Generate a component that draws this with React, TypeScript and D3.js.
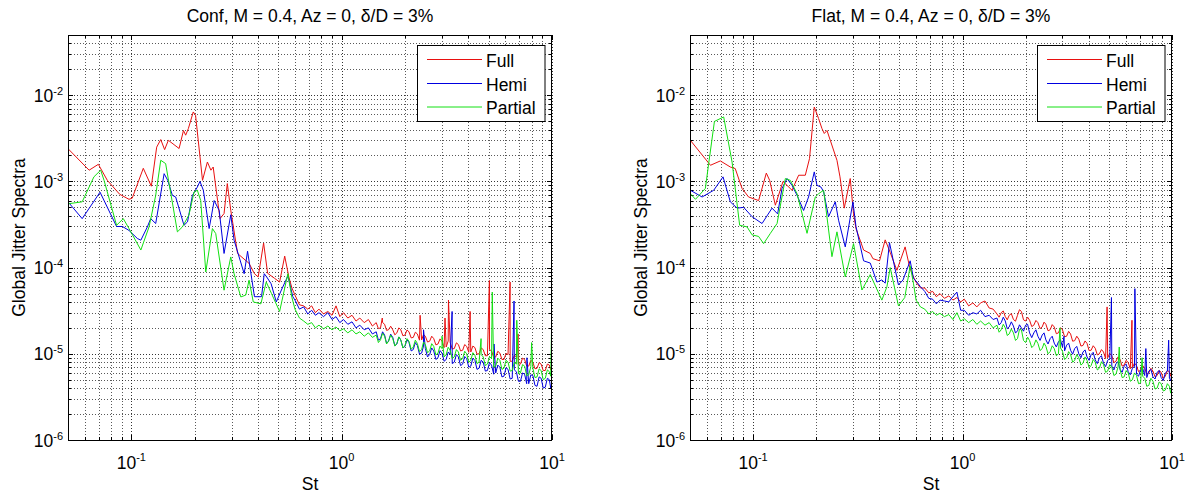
import React from "react";
import * as d3 from "d3";

// ---------- data ----------
const seriesNames = ["Full", "Hemi", "Partial"];
const seriesColors = ["#e81010", "#0000e0", "#12e012"];
const panelTitles = ["Conf, M = 0.4, Az = 0, \u03b4/D = 3%", "Flat, M = 0.4, Az = 0, \u03b4/D = 3%"];
const xTickExps = [-1, 0, 1];
const yTickExps = [-6, -5, -4, -3, -2];
const xDomain = [0.05, 10];
const yDomain = [1e-6, 5e-2];

// shared Strouhal grid for the broadband (high-frequency) part
const hiSt = [
  0.60, 0.63, 0.66, 0.69, 0.72, 0.75, 0.78, 0.82, 0.86, 0.90,
  0.94, 0.98, 1.02, 1.07, 1.12, 1.17, 1.22, 1.28, 1.34, 1.40,
  1.46, 1.53, 1.60, 1.67, 1.75, 1.83, 1.91, 2.00, 2.09, 2.19,
  2.29, 2.40, 2.50, 2.62, 2.74, 2.87, 3.00, 3.14, 3.28, 3.43,
  3.59, 3.76, 3.93, 4.11, 4.30, 4.50, 4.71, 4.93, 5.16, 5.40,
  5.65, 5.91, 6.18, 6.47, 6.77, 7.08, 7.41, 7.75, 8.11, 8.49,
  8.88, 9.29, 9.72, 10.0,
];
// in-between samples of the noisy band (St > 1.46)
const midSt = [
  1.495, 1.565, 1.635, 1.71, 1.79, 1.87, 1.955, 2.045, 2.14, 2.24,
  2.345, 2.45, 2.56, 2.68, 2.805, 2.935, 3.07, 3.21, 3.355, 3.51,
  3.675, 3.845, 4.02, 4.205, 4.40, 4.605, 4.82, 5.045, 5.28, 5.525,
  5.78, 6.045, 6.325, 6.62, 6.925, 7.245, 7.58, 7.93, 8.30, 8.685,
  9.085, 9.505, 9.86,
];

// ---- Conf panel ----
const confFullLow = [
  [0.05, 2.4e-3], [0.063, 1.35e-3], [0.0697, 1.58e-3], [0.0769, 1.03e-3], [0.088, 7.1e-4],
  [0.0975, 6.2e-4], [0.101, 6.4e-4], [0.114, 1.42e-3], [0.1245, 8.8e-4], [0.132, 2.5e-3],
  [0.138, 3.06e-3], [0.144, 2.34e-3], [0.15, 3.0e-3], [0.1687, 2.41e-3], [0.177, 3.9e-3],
  [0.1813, 3.44e-3], [0.1867, 4.1e-3], [0.197, 6.4e-3], [0.202, 5.86e-3], [0.218, 1.03e-3],
  [0.23, 1.68e-3], [0.239, 1.35e-3], [0.245, 1.47e-3], [0.264, 3.7e-4], [0.276, 4.24e-4],
  [0.286, 9.45e-4], [0.297, 4.63e-4], [0.32, 1.46e-4], [0.363, 1.12e-4], [0.385, 8.5e-5],
  [0.401, 7.8e-5], [0.4255, 1.93e-4], [0.4446, 8.6e-5], [0.48, 7.5e-5], [0.507, 6.8e-5],
  [0.536, 1.36e-4], [0.561, 7.8e-5], [0.58, 5.8e-5],
];
const confFullHi = [
  4.8e-5, 3.7e-5, 3.6e-5, 3.3e-5, 3.6e-5, 3.0e-5, 3.3e-5, 2.9e-5, 3.1e-5, 2.8e-5,
  3.6e-5, 2.7e-5, 3.0e-5, 2.6e-5, 2.8e-5, 2.4e-5, 2.6e-5, 2.3e-5, 2.5e-5, 2.1e-5,
  2.3e-5, 2.0e-5, 2.2e-5, 1.9e-5, 1.9e-5, 1.75e-5, 1.9e-5, 1.65e-5, 1.8e-5, 1.55e-5,
  1.7e-5, 1.45e-5, 1.6e-5, 1.4e-5, 1.5e-5, 1.3e-5, 1.4e-5, 1.2e-5, 1.35e-5, 1.15e-5,
  1.28e-5, 1.1e-5, 1.22e-5, 1.05e-5, 1.18e-5, 1.0e-5, 1.12e-5, 0.95e-5, 1.08e-5, 0.92e-5,
  1.02e-5, 0.86e-5, 0.98e-5, 0.82e-5, 0.92e-5, 0.76e-5, 0.86e-5, 0.72e-5, 0.8e-5, 0.68e-5,
  0.76e-5, 0.64e-5, 0.74e-5, 0.68e-5,
];
const confFullMid = [
  1.96e-5, 2.31e-5, 1.87e-5, 2.09e-5, 1.66e-5, 2.0e-5, 1.62e-5, 1.89e-5, 1.53e-5, 1.78e-5,
  1.44e-5, 1.67e-5, 1.37e-5, 1.6e-5, 1.27e-5, 1.49e-5, 1.18e-5, 1.41e-5, 1.14e-5, 1.34e-5,
  1.08e-5, 1.28e-5, 1.04e-5, 1.23e-5, 0.99e-5, 1.17e-5, 0.95e-5, 1.12e-5, 0.91e-5, 1.07e-5,
  0.86e-5, 1.01e-5, 0.82e-5, 0.96e-5, 0.76e-5, 0.89e-5, 0.72e-5, 0.84e-5, 0.67e-5, 0.79e-5,
  0.64e-5, 0.76e-5, 0.65e-5,
];
const confFullSpikes = [
  [1.56, 2.6e-5], [2.36, 2.8e-5], [3.1, 2.6e-5], [3.22, 4.2e-5], [4.08, 3.1e-5],
  [5.04, 7.1e-5], [6.32, 6.8e-5], [6.9, 1.7e-5],
];

const confHemiLow = [
  [0.05, 5.8e-4], [0.0584, 3.7e-4], [0.071, 7.5e-4], [0.0851, 3.0e-4], [0.0907, 3.0e-4],
  [0.0975, 2.7e-4], [0.1068, 2.18e-4], [0.111, 2.08e-4], [0.1192, 2.97e-4], [0.1236, 3.7e-4],
  [0.1306, 3.25e-4], [0.1432, 1.23e-3], [0.149, 1.03e-3], [0.1567, 6.9e-4], [0.1625, 6.6e-4],
  [0.178, 3.1e-4], [0.185, 3.4e-4], [0.1953, 6.9e-4], [0.206, 8.6e-4], [0.212, 1.0e-3],
  [0.22, 7.9e-4], [0.2344, 2.84e-4], [0.2477, 6.0e-4], [0.2617, 4.6e-4], [0.276, 1.46e-4],
  [0.297, 4.1e-4], [0.308, 2.08e-4], [0.344, 8.5e-5], [0.357, 1.55e-4], [0.385, 4.6e-5],
  [0.416, 4.6e-5], [0.4285, 8.5e-5], [0.44, 7.8e-5], [0.462, 6.5e-5], [0.489, 4.0e-5],
  [0.517, 5.5e-5], [0.555, 8.0e-5], [0.586, 4.6e-5],
];
const confHemiHi = [
  4.2e-5, 3.3e-5, 3.5e-5, 2.9e-5, 3.2e-5, 2.8e-5, 3.0e-5, 2.7e-5, 3.0e-5, 2.5e-5,
  2.7e-5, 2.3e-5, 2.5e-5, 2.2e-5, 2.35e-5, 2.0e-5, 2.15e-5, 1.9e-5, 2.0e-5, 1.7e-5,
  1.8e-5, 1.5e-5, 1.65e-5, 1.4e-5, 1.55e-5, 1.3e-5, 1.45e-5, 1.22e-5, 1.35e-5, 1.12e-5,
  1.25e-5, 1.02e-5, 1.15e-5, 0.98e-5, 1.08e-5, 0.9e-5, 1.02e-5, 0.86e-5, 0.98e-5, 0.8e-5,
  0.92e-5, 0.76e-5, 0.88e-5, 0.72e-5, 0.84e-5, 0.68e-5, 0.8e-5, 0.64e-5, 0.74e-5, 0.6e-5,
  0.7e-5, 0.55e-5, 0.66e-5, 0.52e-5, 0.62e-5, 0.48e-5, 0.58e-5, 0.45e-5, 0.56e-5, 0.42e-5,
  0.52e-5, 0.41e-5, 0.5e-5, 0.42e-5,
];
const confHemiMid = [
  1.44e-5, 1.8e-5, 1.32e-5, 1.69e-5, 1.24e-5, 1.57e-5, 1.17e-5, 1.46e-5, 1.08e-5, 1.35e-5,
  0.99e-5, 1.23e-5, 0.92e-5, 1.17e-5, 0.86e-5, 1.09e-5, 0.82e-5, 1.05e-5, 0.77e-5, 0.98e-5,
  0.73e-5, 0.93e-5, 0.7e-5, 0.89e-5, 0.66e-5, 0.84e-5, 0.63e-5, 0.79e-5, 0.58e-5, 0.74e-5,
  0.54e-5, 0.69e-5, 0.51e-5, 0.65e-5, 0.48e-5, 0.6e-5, 0.45e-5, 0.57e-5, 0.43e-5, 0.54e-5,
  0.4e-5, 0.52e-5, 0.4e-5,
];
const confHemiSpikes = [
  [2.45, 1.9e-5], [3.35, 3.1e-5], [5.3, 1.3e-5], [6.6, 4.1e-5], [7.6, 0.9e-5],
];

const confPartialLow = [
  [0.05, 5.5e-4], [0.0584, 5.8e-4], [0.0664, 1.13e-3], [0.0715, 1.35e-3], [0.0742, 1.03e-3],
  [0.0851, 3.1e-4], [0.0916, 3.7e-4], [0.0975, 2.84e-4], [0.111, 1.6e-4], [0.1214, 2.97e-4],
  [0.1306, 6.9e-4], [0.138, 1.76e-3], [0.1456, 1.61e-3], [0.1512, 9.45e-4], [0.1656, 2.6e-4],
  [0.175, 2.97e-4], [0.188, 4.1e-4], [0.1988, 7.55e-4], [0.206, 7.9e-4], [0.2138, 6.0e-4],
  [0.2259, 8.9e-5], [0.243, 2.84e-4], [0.252, 2.48e-4], [0.276, 5.47e-5], [0.297, 1.33e-4],
  [0.308, 8.5e-5], [0.3315, 4.57e-5], [0.35, 4.8e-5], [0.363, 7.15e-5], [0.38, 4.0e-5],
  [0.413, 3.8e-5], [0.438, 6.8e-5], [0.464, 5.0e-5], [0.507, 3.1e-5], [0.555, 8.5e-5],
  [0.58, 4.5e-5],
];
const confPartialHi = [
  3.3e-5, 2.6e-5, 2.4e-5, 2.2e-5, 2.3e-5, 2.0e-5, 2.15e-5, 1.95e-5, 2.1e-5, 1.9e-5,
  2.05e-5, 1.85e-5, 1.95e-5, 1.75e-5, 1.9e-5, 1.7e-5, 1.8e-5, 1.6e-5, 1.75e-5, 1.55e-5,
  1.65e-5, 1.45e-5, 1.6e-5, 1.4e-5, 1.5e-5, 1.32e-5, 1.45e-5, 1.25e-5, 1.4e-5, 1.2e-5,
  1.32e-5, 1.12e-5, 1.28e-5, 1.08e-5, 1.22e-5, 1.02e-5, 1.15e-5, 0.98e-5, 1.1e-5, 0.92e-5,
  1.05e-5, 0.88e-5, 1.0e-5, 0.84e-5, 0.96e-5, 0.8e-5, 0.92e-5, 0.76e-5, 0.88e-5, 0.72e-5,
  0.84e-5, 0.68e-5, 0.8e-5, 0.64e-5, 0.76e-5, 0.6e-5, 0.72e-5, 0.57e-5, 0.68e-5, 0.54e-5,
  0.64e-5, 0.52e-5, 0.62e-5, 1.2e-5,
];
const confPartialMid = [
  1.35e-5, 1.73e-5, 1.3e-5, 1.65e-5, 1.23e-5, 1.57e-5, 1.17e-5, 1.5e-5, 1.13e-5, 1.44e-5,
  1.06e-5, 1.37e-5, 1.03e-5, 1.31e-5, 0.97e-5, 1.23e-5, 0.92e-5, 1.19e-5, 0.88e-5, 1.12e-5,
  0.84e-5, 1.07e-5, 0.8e-5, 1.03e-5, 0.77e-5, 0.98e-5, 0.73e-5, 0.93e-5, 0.7e-5, 0.89e-5,
  0.66e-5, 0.84e-5, 0.63e-5, 0.8e-5, 0.59e-5, 0.75e-5, 0.56e-5, 0.71e-5, 0.53e-5, 0.67e-5,
  0.5e-5, 0.65e-5, 0.55e-5,
];
const confPartialSpikes = [
  [3.0, 1.6e-5], [4.6, 1.5e-5], [5.2, 5.2e-5], [6.8, 2.45e-5], [8.0, 1.35e-5], [9.95, 1.9e-5],
];

// ---- Flat panel ----
const flatFullLow = [
  [0.0502, 3.0e-3], [0.0626, 1.54e-3], [0.0698, 1.73e-3], [0.0779, 1.47e-3], [0.0822, 1.41e-3],
  [0.0886, 8.3e-4], [0.0952, 6.6e-4], [0.1063, 6.0e-4], [0.1157, 1.25e-3], [0.12, 1.03e-3],
  [0.1278, 5.3e-4], [0.139, 1.0e-3], [0.1535, 7.9e-4], [0.165, 1.18e-3], [0.1776, 1.18e-3],
  [0.186, 1.84e-3], [0.196, 7.3e-3], [0.2055, 5.37e-3], [0.2133, 4.1e-3], [0.2188, 3.6e-3],
  [0.2254, 3.9e-3], [0.2515, 1.76e-3], [0.26, 1.13e-3], [0.2725, 4.9e-4], [0.291, 1.08e-3],
  [0.3018, 4.2e-4], [0.31, 2.84e-4], [0.337, 1.6e-4], [0.3626, 1.46e-4], [0.3734, 1.27e-4],
  [0.4016, 1.2e-4], [0.4274, 2.1e-4], [0.4516, 1.5e-4], [0.486, 9.3e-5], [0.532, 1.74e-4],
  [0.56, 1.0e-4], [0.583, 7.8e-5],
];
const flatFullHi = [
  6.8e-5, 5.8e-5, 5.8e-5, 5.1e-5, 5.3e-5, 4.6e-5, 5.0e-5, 4.4e-5, 4.7e-5, 4.2e-5,
  4.5e-5, 4.0e-5, 4.3e-5, 3.6e-5, 3.9e-5, 3.5e-5, 3.9e-5, 4.1e-5, 3.4e-5, 3.3e-5,
  2.9e-5, 3.0e-5, 2.7e-5, 2.8e-5, 2.5e-5, 2.8e-5, 3.1e-5, 2.4e-5, 2.45e-5, 2.15e-5,
  2.3e-5, 2.05e-5, 2.2e-5, 1.9e-5, 2.05e-5, 1.75e-5, 1.9e-5, 1.6e-5, 1.7e-5, 1.42e-5,
  1.48e-5, 1.25e-5, 1.32e-5, 1.1e-5, 1.16e-5, 1.0e-5, 1.05e-5, 0.9e-5, 0.95e-5, 0.82e-5,
  0.86e-5, 0.74e-5, 0.79e-5, 0.69e-5, 0.73e-5, 0.65e-5, 0.68e-5, 0.6e-5, 0.63e-5, 0.56e-5,
  0.61e-5, 0.55e-5, 0.62e-5, 0.6e-5,
];
const flatFullMid = [
  2.66e-5, 3.14e-5, 2.48e-5, 2.92e-5, 2.39e-5, 3.25e-5, 2.48e-5, 2.66e-5, 2.07e-5, 2.44e-5,
  1.96e-5, 2.33e-5, 1.85e-5, 2.18e-5, 1.71e-5, 2.0e-5, 1.58e-5, 1.82e-5, 1.4e-5, 1.6e-5,
  1.23e-5, 1.41e-5, 1.09e-5, 1.24e-5, 0.97e-5, 1.12e-5, 0.88e-5, 1.01e-5, 0.79e-5, 0.92e-5,
  0.72e-5, 0.84e-5, 0.67e-5, 0.78e-5, 0.62e-5, 0.73e-5, 0.58e-5, 0.68e-5, 0.54e-5, 0.64e-5,
  0.52e-5, 0.64e-5, 0.55e-5,
];
const flatFullSpikes = [[2.95, 2.0e-5], [4.9, 3.5e-5], [6.44, 2.45e-5]];

const flatHemiLow = [
  [0.0502, 7.9e-4], [0.0571, 6.6e-4], [0.0649, 7.9e-4], [0.0719, 1.13e-3], [0.0779, 5.8e-4],
  [0.0839, 4.9e-4], [0.0902, 5.0e-4], [0.0989, 3.9e-4], [0.1104, 3.25e-4], [0.1232, 4.9e-4],
  [0.131, 4.2e-4], [0.1375, 8.3e-4], [0.1453, 1.08e-3], [0.1535, 9.0e-4], [0.1622, 6.9e-4],
  [0.1743, 4.6e-4], [0.1841, 6.6e-4], [0.196, 1.29e-3], [0.2019, 9.0e-4], [0.211, 8.6e-4],
  [0.2172, 7.6e-4], [0.2293, 3.9e-4], [0.2469, 5.8e-4], [0.256, 3.55e-4], [0.2755, 1.74e-4],
  [0.2998, 5.8e-4], [0.31, 3.0e-4], [0.337, 1.2e-4], [0.3626, 1.13e-4], [0.3903, 6.8e-5],
  [0.412, 7.2e-5], [0.4274, 6.6e-5], [0.448, 1.95e-4], [0.4945, 6.3e-5], [0.52, 7.2e-5],
  [0.5625, 1.2e-4], [0.583, 7.5e-5],
];
const flatHemiHi = [
  7.0e-5, 6.0e-5, 5.3e-5, 4.4e-5, 4.3e-5, 3.8e-5, 4.2e-5, 4.1e-5, 4.0e-5, 4.6e-5,
  5.2e-5, 3.2e-5, 3.2e-5, 2.8e-5, 3.0e-5, 2.9e-5, 3.2e-5, 2.7e-5, 2.8e-5, 2.5e-5,
  2.6e-5, 2.3e-5, 2.4e-5, 2.05e-5, 2.1e-5, 1.85e-5, 2.0e-5, 2.15e-5, 1.75e-5, 1.75e-5,
  1.6e-5, 1.65e-5, 1.45e-5, 1.5e-5, 1.33e-5, 1.38e-5, 1.2e-5, 1.26e-5, 1.1e-5, 1.15e-5,
  1.0e-5, 1.05e-5, 0.92e-5, 0.98e-5, 0.85e-5, 0.9e-5, 0.78e-5, 0.84e-5, 0.72e-5, 0.77e-5,
  0.66e-5, 0.72e-5, 0.62e-5, 0.68e-5, 0.58e-5, 0.65e-5, 0.56e-5, 0.63e-5, 0.54e-5, 0.61e-5,
  0.53e-5, 0.6e-5, 0.52e-5, 0.6e-5,
];
const flatHemiMid = [
  2.16e-5, 2.66e-5, 1.95e-5, 2.35e-5, 1.74e-5, 2.17e-5, 1.83e-5, 2.2e-5, 1.54e-5, 1.9e-5,
  1.43e-5, 1.75e-5, 1.3e-5, 1.6e-5, 1.2e-5, 1.46e-5, 1.08e-5, 1.33e-5, 0.99e-5, 1.22e-5,
  0.9e-5, 1.11e-5, 0.84e-5, 1.04e-5, 0.77e-5, 0.95e-5, 0.71e-5, 0.88e-5, 0.65e-5, 0.81e-5,
  0.61e-5, 0.76e-5, 0.57e-5, 0.71e-5, 0.55e-5, 0.68e-5, 0.53e-5, 0.66e-5, 0.51e-5, 0.64e-5,
  0.49e-5, 0.63e-5, 0.49e-5,
];
const flatHemiSpikes = [[3.05, 1.6e-5], [5.14, 4.5e-5], [6.65, 5.7e-5], [7.5, 1.15e-5], [9.64, 1.44e-5]];

const flatPartialLow = [
  [0.0502, 7.2e-4], [0.0531, 6.2e-4], [0.0592, 8.3e-4], [0.0614, 1.61e-3], [0.0654, 4.97e-3],
  [0.0724, 5.6e-3], [0.0794, 1.68e-3], [0.0863, 3.1e-4], [0.0936, 2.97e-4], [0.0989, 2.4e-4],
  [0.1063, 2.3e-4], [0.1123, 1.9e-4], [0.121, 2.5e-4], [0.1302, 3.25e-4], [0.1426, 1.08e-3],
  [0.1506, 1.03e-3], [0.1622, 7.2e-4], [0.181, 2.5e-4], [0.1982, 6.6e-4], [0.2055, 7.2e-4],
  [0.2172, 7.9e-4], [0.238, 1.34e-4], [0.2515, 2.6e-4], [0.2755, 7.8e-5], [0.3018, 1.9e-4],
  [0.331, 5.5e-5], [0.3626, 8.3e-5], [0.412, 4.2e-5], [0.4355, 6.0e-5], [0.4516, 1.0e-4],
  [0.4945, 3.6e-5], [0.53, 4.5e-5], [0.5625, 1.05e-4], [0.583, 6.6e-5],
];
const flatPartialHi = [
  4.2e-5, 3.5e-5, 3.3e-5, 2.9e-5, 3.1e-5, 2.8e-5, 2.95e-5, 2.7e-5, 2.85e-5, 2.5e-5,
  3.0e-5, 2.4e-5, 2.55e-5, 2.3e-5, 2.5e-5, 2.2e-5, 2.4e-5, 2.15e-5, 2.3e-5, 2.0e-5,
  2.15e-5, 1.9e-5, 2.0e-5, 1.7e-5, 1.75e-5, 1.5e-5, 1.9e-5, 1.35e-5, 1.42e-5, 1.25e-5,
  1.32e-5, 1.15e-5, 1.22e-5, 1.06e-5, 1.15e-5, 1.0e-5, 1.07e-5, 0.9e-5, 0.98e-5, 0.84e-5,
  0.9e-5, 0.78e-5, 0.84e-5, 0.73e-5, 0.8e-5, 0.68e-5, 0.75e-5, 0.63e-5, 0.7e-5, 0.58e-5,
  0.66e-5, 0.54e-5, 0.6e-5, 0.5e-5, 0.56e-5, 0.46e-5, 0.52e-5, 0.43e-5, 0.48e-5, 0.4e-5,
  0.45e-5, 0.38e-5, 0.42e-5, 0.37e-5,
];
const flatPartialMid = [
  1.78e-5, 2.2e-5, 1.63e-5, 1.94e-5, 1.43e-5, 1.92e-5, 1.43e-5, 1.56e-5, 1.18e-5, 1.45e-5,
  1.09e-5, 1.33e-5, 1.0e-5, 1.24e-5, 0.95e-5, 1.17e-5, 0.86e-5, 1.06e-5, 0.8e-5, 0.98e-5,
  0.74e-5, 0.92e-5, 0.69e-5, 0.86e-5, 0.65e-5, 0.81e-5, 0.61e-5, 0.75e-5, 0.56e-5, 0.7e-5,
  0.53e-5, 0.64e-5, 0.48e-5, 0.6e-5, 0.45e-5, 0.55e-5, 0.42e-5, 0.52e-5, 0.39e-5, 0.47e-5,
  0.37e-5, 0.45e-5, 0.35e-5,
];
const flatPartialSpikes = [[2.92, 2.0e-5], [5.6, 1.2e-5], [7.2, 0.9e-5]];

const panels = [
  {
    title: panelTitles[0],
    series: [
      { low: confFullLow, hi: confFullHi, mid: confFullMid, spikes: confFullSpikes },
      { low: confHemiLow, hi: confHemiHi, mid: confHemiMid, spikes: confHemiSpikes },
      { low: confPartialLow, hi: confPartialHi, mid: confPartialMid, spikes: confPartialSpikes },
    ],
  },
  {
    title: panelTitles[1],
    series: [
      { low: flatFullLow, hi: flatFullHi, mid: flatFullMid, spikes: flatFullSpikes },
      { low: flatHemiLow, hi: flatHemiHi, mid: flatHemiMid, spikes: flatHemiSpikes },
      { low: flatPartialLow, hi: flatPartialHi, mid: flatPartialMid, spikes: flatPartialSpikes },
    ],
  },
];

// ---------- layout ----------
const W = 1188;
const H = 494;
const TOP = 35;
const BOTTOM = 440;
const panelX = [
  [68, 552],
  [690, 1172],
];
const FONT = "'Liberation Sans', Arial, Helvetica, sans-serif";
const FS = 17.5;
const SUP = 11;

function buildSeries(s) {
  const pts = [
    ...s.low.map((d) => [d[0], d[1]]),
    ...hiSt.map((st, i) => [st, s.hi[i]]),
    ...midSt.map((st, i) => [st, s.mid[i]]),
    ...s.spikes.map((d) => [d[0], d[1]]),
  ];
  pts.sort((a, b) => a[0] - b[0]);
  return pts;
}

function Panel({ idx }) {
  const [x0, x1] = panelX[idx];
  const p = panels[idx];
  const x = d3.scaleLog().domain(xDomain).range([x0, x1]);
  const y = d3.scaleLog().domain(yDomain).range([BOTTOM, TOP]);
  const crisp = (v) => Math.round(v) + 0.5;

  const xGrid = [];
  for (let k = -2; k <= 1; k++)
    for (let m = 1; m <= 9; m++) {
      const v = m * Math.pow(10, k);
      if (v >= xDomain[0] * 0.999 && v <= xDomain[1] * 1.001) xGrid.push({ v, major: m === 1 });
    }
  const yGrid = [];
  for (let k = -6; k <= -2; k++)
    for (let m = 1; m <= 9; m++) {
      const v = m * Math.pow(10, k);
      if (v >= yDomain[0] * 0.999 && v <= yDomain[1] * 1.001) yGrid.push({ v, major: m === 1 });
    }

  const line = d3
    .line()
    .x((d) => x(d[0]))
    .y((d) => y(d[1]));

  const clipId = `clip${idx}`;
  const cx = (x0 + x1) / 2;
  const legX0 = x1 - 135;
  const legX1 = x1 - 7.5;
  const legRows = [59.5, 83.5, 107];

  return (
    <g>
      <defs>
        <clipPath id={clipId}>
          <rect x={x0} y={TOP} width={x1 - x0} height={BOTTOM - TOP} />
        </clipPath>
      </defs>
      <rect x={x0} y={TOP} width={x1 - x0} height={BOTTOM - TOP} fill="#fff" />
      {xGrid.map((g, i) => (
        <line
          key={"xg" + i}
          x1={crisp(x(g.v))}
          x2={crisp(x(g.v))}
          y1={TOP}
          y2={BOTTOM}
          stroke="#000"
          strokeOpacity={g.major ? 0.8 : 0.65}
          strokeDasharray="1 2"
        />
      ))}
      {yGrid.map((g, i) => (
        <line
          key={"yg" + i}
          x1={x0}
          x2={x1}
          y1={crisp(y(g.v))}
          y2={crisp(y(g.v))}
          stroke="#000"
          strokeOpacity={g.major ? 0.8 : 0.65}
          strokeDasharray="1 2"
        />
      ))}
      {xGrid.map((g, i) => {
        const len = g.major ? 5 : 3;
        const xx = crisp(x(g.v));
        return (
          <g key={"xt" + i}>
            <line x1={xx} x2={xx} y1={BOTTOM} y2={BOTTOM - len} stroke="#000" />
            <line x1={xx} x2={xx} y1={TOP} y2={TOP + len} stroke="#000" />
          </g>
        );
      })}
      {yGrid.map((g, i) => {
        const len = g.major ? 5 : 3;
        const yy = crisp(y(g.v));
        return (
          <g key={"yt" + i}>
            <line x1={x0} x2={x0 + len} y1={yy} y2={yy} stroke="#000" />
            <line x1={x1} x2={x1 - len} y1={yy} y2={yy} stroke="#000" />
          </g>
        );
      })}
      <g clipPath={`url(#${clipId})`}>
        {p.series.map((s, i) => (
          <path
            key={"s" + i}
            d={line(buildSeries(s))}
            fill="none"
            stroke={seriesColors[i]}
            strokeWidth={1}
            strokeLinejoin="round"
          />
        ))}
      </g>
      <rect x={x0 + 0.5} y={TOP + 0.5} width={x1 - x0 - 1} height={BOTTOM - TOP} fill="none" stroke="#000" strokeWidth={1} />
      {xTickExps.map((e) => (
        <text key={"xl" + e} x={x(Math.pow(10, e))} y={468.5} fontFamily={FONT} fontSize={FS} textAnchor="middle" fill="#000">
          10
          <tspan fontSize={SUP} dy={-8}>
            {String(e)}
          </tspan>
        </text>
      ))}
      {yTickExps.map((e) => (
        <text key={"yl" + e} x={x0 - 5} y={y(Math.pow(10, e)) + 6.5} fontFamily={FONT} fontSize={FS} textAnchor="end" fill="#000">
          10
          <tspan fontSize={SUP} dy={-7}>
            {String(e)}
          </tspan>
        </text>
      ))}
      <text x={cx} y={22} fontFamily={FONT} fontSize={FS} textAnchor="middle" fill="#000">
        {p.title}
      </text>
      <text x={cx} y={490} fontFamily={FONT} fontSize={FS} textAnchor="middle" fill="#000">
        St
      </text>
      <text
        transform={`translate(${x0 - 43},${(TOP + BOTTOM) / 2}) rotate(-90)`}
        fontFamily={FONT}
        fontSize={FS}
        textAnchor="middle"
        fill="#000"
      >
        Global Jitter Spectra
      </text>
      <rect x={legX0 + 0.5} y={45.5} width={legX1 - legX0} height={76} fill="#fff" stroke="#000" strokeWidth={1} />
      {seriesNames.map((n, i) => (
        <g key={"lg" + i}>
          <line x1={x1 - 125} x2={x1 - 70} y1={legRows[i]} y2={legRows[i]} stroke={seriesColors[i]} strokeWidth={1} />
          <text x={x1 - 66} y={legRows[i] + 7} fontFamily={FONT} fontSize={FS} fill="#000">
            {n}
          </text>
        </g>
      ))}
    </g>
  );
}

export default function App() {
  return (
    <svg
      width={W}
      height={H}
      viewBox={`0 0 ${W} ${H}`}
      style={{ position: "absolute", left: 0, top: 0, background: "#fff" }}
    >
      <rect x={0} y={0} width={W} height={H} fill="#fff" />
      <Panel idx={0} />
      <Panel idx={1} />
    </svg>
  );
}
